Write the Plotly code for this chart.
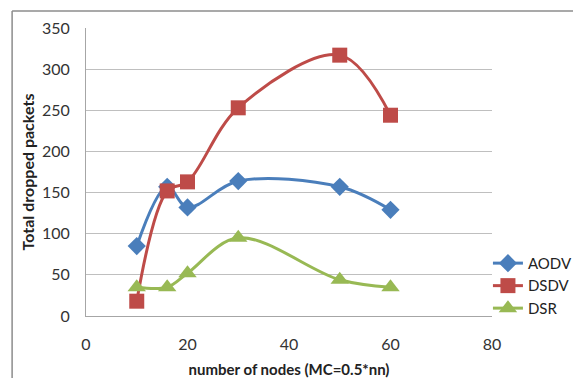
import plotly.graph_objects as go

nodes = [10, 16, 20, 30, 50, 60]
aodv = [85, 157, 132, 164, 157, 129]
dsdv = [18, 152, 163, 253, 317, 244]
dsr = [35, 35, 52, 95, 44, 35]

x_ticks = [0, 20, 40, 60, 80]
y_ticks = [0, 50, 100, 150, 200, 250, 300, 350]

FONT = "Lato"

fig = go.Figure()
fig.add_trace(go.Scatter(x=nodes, y=aodv, name="AODV", mode="lines+markers",
                         line=dict(color="#4a7ebb", width=3, shape="spline"),
                         marker=dict(symbol="diamond", size=14, color="#4a7ebb")))
fig.add_trace(go.Scatter(x=nodes, y=dsdv, name="DSDV", mode="lines+markers",
                         line=dict(color="#be4b48", width=3, shape="spline"),
                         marker=dict(symbol="square", size=15, color="#be4b48")))
fig.add_trace(go.Scatter(x=nodes, y=dsr, name="DSR", mode="lines+markers",
                         line=dict(color="#98b954", width=3, shape="spline"),
                         marker=dict(symbol="triangle-up", size=16, color="#98b954")))

# outer chart-area border (top and left edges visible in the reference)
fig.add_shape(type="line", xref="paper", yref="paper", x0=-0.182, x1=1.5, y0=1.059, y1=1.059,
              line=dict(color="#8c8c8c", width=1.5), layer="below")
fig.add_shape(type="line", xref="paper", yref="paper", x0=-0.182, x1=-0.182, y0=-0.5, y1=1.059,
              line=dict(color="#8c8c8c", width=1.5), layer="below")

fig.update_layout(
    width=573, height=378,
    margin=dict(l=86, r=81, t=28, b=62, autoexpand=False),
    paper_bgcolor="white", plot_bgcolor="white",
    font=dict(family=FONT, color="#222222"),
    showlegend=True,
    legend=dict(x=0.99, y=0.24, xanchor="left", yanchor="top",
                font=dict(family=FONT, size=15, color="#222222"),
                itemwidth=30, tracegroupgap=0, bgcolor="rgba(0,0,0,0)"),
    xaxis=dict(range=[0, 80], tickvals=x_ticks, showgrid=False, zeroline=False,
               showline=True, linecolor="#a6a6a6", linewidth=1, ticks="",
               ticklabelstandoff=14,
               tickfont=dict(family=FONT, size=16, color="#333333"),
               title=dict(text="<b>number of nodes (MC=0.5*nn)</b>", standoff=14,
                          font=dict(family=FONT, size=15, color="#222222"))),
    yaxis=dict(range=[0, 350], tickvals=y_ticks, showgrid=True, gridcolor="#bfbfbf",
               gridwidth=1, zeroline=False, showline=True, linecolor="#a6a6a6",
               linewidth=1, ticks="", ticklabelstandoff=12,
               tickfont=dict(family=FONT, size=16, color="#333333"),
               title=dict(text="<b>Total dropped packets</b>", standoff=3,
                          font=dict(family=FONT, size=16, color="#222222"))),
)

fig.write_html("out.html")
